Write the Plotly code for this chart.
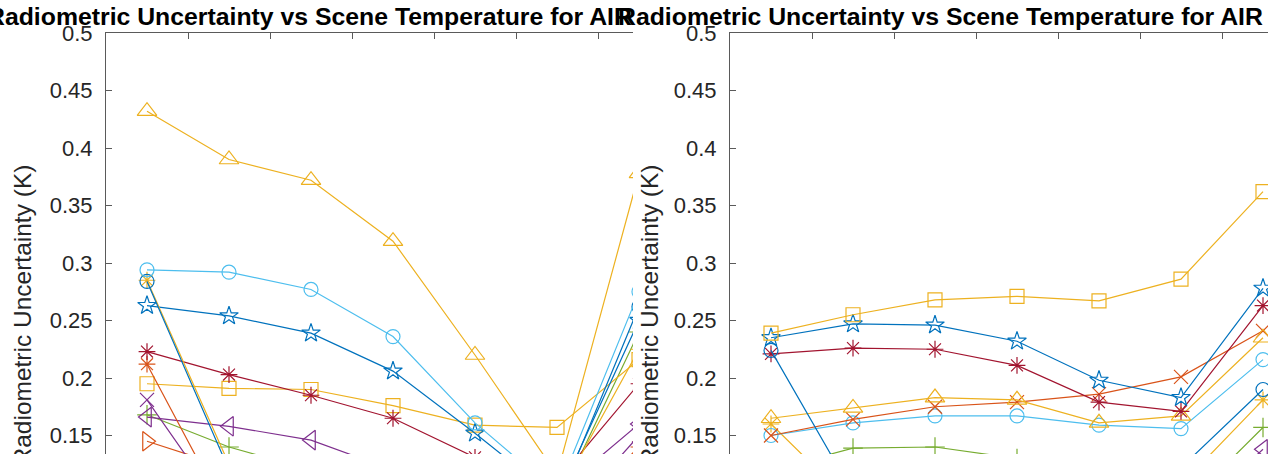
import plotly.graph_objects as go

# ---------------- data ----------------
scene_temp = [205, 215, 225, 235, 245, 255, 265]
x_tick_vals = [210, 220, 230, 240, 250, 260]
y_tick_vals = [0.15, 0.2, 0.25, 0.3, 0.35, 0.4, 0.45, 0.5]
y_tick_text = ["0.15", "0.2", "0.25", "0.3", "0.35", "0.4", "0.45", "0.5"]

title_text = "Radiometric Uncertainty vs Scene Temperature for AIR"
ylabel_text = "Radiometric Uncertainty (K)"

# left panel
L_tri_yellow = [0.432, 0.390, 0.372, 0.319, 0.220, 0.116, 0.378]
L_circ_lblue = [0.294, 0.292, 0.277, 0.236, 0.161, 0.100, 0.275]
L_circ_blue = [0.284, 0.120, 0.115, 0.110, 0.100, 0.090, 0.262]
L_ast_yellow = [0.285, 0.125, 0.120, 0.115, 0.105, 0.095, 0.225]
L_star_blue = [0.263, 0.254, 0.239, 0.206, 0.152, 0.095, 0.250]
L_ast_red = [0.223, 0.203, 0.185, 0.165, 0.131, 0.110, 0.195]
L_ast_orange = [0.212, 0.078, 0.075, 0.070, 0.070, 0.070, 0.140]
L_sq_yellow = [0.195, 0.191, 0.190, 0.176, 0.159, 0.157, 0.216]
L_x_purple = [0.181, 0.079, 0.075, 0.075, 0.070, 0.070, 0.150]
L_tril_purple = [0.166, 0.158, 0.146, 0.120, 0.110, 0.100, 0.160]
L_cross_green = [0.168, 0.140, 0.120, 0.110, 0.100, 0.090, 0.240]
L_trir_orange = [0.145, 0.122, 0.110, 0.100, 0.090, 0.085, 0.130]

# right panel
R_sq_yellow = [0.239, 0.255, 0.268, 0.271, 0.267, 0.286, 0.362]
R_star_blue = [0.235, 0.247, 0.246, 0.232, 0.198, 0.183, 0.278]
R_circ_blue = [0.224, 0.100, 0.100, 0.105, 0.110, 0.122, 0.190]
R_ast_red = [0.221, 0.226, 0.225, 0.211, 0.179, 0.171, 0.263]
R_tri_yellow = [0.165, 0.174, 0.183, 0.181, 0.161, 0.167, 0.235]
R_x_orange = [0.150, 0.164, 0.175, 0.179, 0.186, 0.201, 0.241]
R_circ_lblue = [0.150, 0.161, 0.167, 0.167, 0.159, 0.156, 0.216]
R_ast_yellow = [0.160, 0.090, 0.095, 0.100, 0.100, 0.107, 0.181]
R_cross_green = [0.120, 0.139, 0.140, 0.130, 0.110, 0.086, 0.157]
R_tril_purple = [0.110, 0.100, 0.100, 0.090, 0.080, 0.073, 0.138]

# ---------------- styles ----------------
BLUE, ORANGE, YELLOW, PURPLE = "#0072BD", "#D95319", "#EDB120", "#7E2F8E"
GREEN, LBLUE, DRED = "#77AC30", "#4DBEEE", "#A2142F"

left_series = [
    (L_trir_orange, ORANGE, "triangle-right-open"),
    (L_cross_green, GREEN, "cross-thin-open"),
    (L_tril_purple, PURPLE, "triangle-left-open"),
    (L_x_purple, PURPLE, "x-thin-open"),
    (L_sq_yellow, YELLOW, "square-open"),
    (L_ast_orange, ORANGE, "asterisk-open"),
    (L_ast_red, DRED, "asterisk-open"),
    (L_star_blue, BLUE, "star-open"),
    (L_ast_yellow, YELLOW, "asterisk-open"),
    (L_circ_blue, BLUE, "circle-open"),
    (L_circ_lblue, LBLUE, "circle-open"),
    (L_tri_yellow, YELLOW, "triangle-up-open"),
]
right_series = [
    (R_tril_purple, PURPLE, "triangle-left-open"),
    (R_cross_green, GREEN, "cross-thin-open"),
    (R_ast_yellow, YELLOW, "asterisk-open"),
    (R_circ_lblue, LBLUE, "circle-open"),
    (R_x_orange, ORANGE, "x-thin-open"),
    (R_tri_yellow, YELLOW, "triangle-up-open"),
    (R_ast_red, DRED, "asterisk-open"),
    (R_circ_blue, BLUE, "circle-open"),
    (R_star_blue, BLUE, "star-open"),
    (R_sq_yellow, YELLOW, "square-open"),
]

W, H = 1268, 454
TOP = 33
FONT = "Liberation Sans, Arial, sans-serif"

fig = go.Figure()


def add(series, xa, ya):
    for vals, col, sym in series:
        size = 17 if sym.startswith("triangle") else 14
        fig.add_trace(go.Scatter(
            x=scene_temp, y=vals, mode="lines+markers", xaxis=xa, yaxis=ya,
            line=dict(color=col, width=1.2),
            marker=dict(symbol=sym, size=size, color=col, line=dict(color=col, width=1.2)),
            showlegend=False, hoverinfo="skip"))


add(left_series, "x", "y")
add(right_series, "x2", "y2")

px_per_10 = 82.0
left_x0, left_x1 = 106, 633
right_x0 = 730
ymin = 0.5 - (H - TOP) / 1150.0

axis_common = dict(showgrid=False, zeroline=False, showline=True, linecolor="#5a5a5a",
                   linewidth=1.2, ticks="inside", ticklen=6, tickcolor="#5a5a5a")

fig.update_layout(
    width=W, height=H,
    margin=dict(l=0, r=0, t=TOP, b=0),
    paper_bgcolor="white", plot_bgcolor="white",
    xaxis=dict(domain=[left_x0 / W, left_x1 / W],
               range=[200, 200 + (left_x1 - left_x0) / px_per_10 * 10],
               side="top", tickvals=x_tick_vals, showticklabels=False, **axis_common),
    yaxis=dict(range=[ymin, 0.5], tickvals=y_tick_vals, ticktext=y_tick_text,
               tickfont=dict(family=FONT, size=22, color="#262626"),
               ticklabelstandoff=8, **axis_common),
    xaxis2=dict(domain=[right_x0 / W, 1.0],
                range=[200, 200 + (W - right_x0) / px_per_10 * 10],
                side="top", anchor="y2", tickvals=x_tick_vals, showticklabels=False,
                **axis_common),
    yaxis2=dict(range=[ymin, 0.5], anchor="x2", tickvals=y_tick_vals, ticktext=y_tick_text,
                tickfont=dict(family=FONT, size=22, color="#262626"),
                ticklabelstandoff=8, **axis_common),
)


def py(p):
    return (H - p) / (H - TOP)


title_font = dict(family=FONT, size=24.8, color="black")
label_font = dict(family=FONT, size=24.5, color="#262626")
fig.add_annotation(text="<b>" + title_text + "</b>", xref="paper", yref="paper",
                   x=634 / W, y=py(16.5), xanchor="right", yanchor="middle",
                   showarrow=False, font=title_font)
fig.add_annotation(text="<b>" + title_text + "</b>", xref="paper", yref="paper",
                   x=616 / W, y=py(16.5), xanchor="left", yanchor="middle",
                   showarrow=False, font=title_font)
for xc in (22, 649):
    fig.add_annotation(text=ylabel_text, xref="paper", yref="paper",
                       x=xc / W, y=py(163), xanchor="center", yanchor="top",
                       textangle=-90, showarrow=False, font=label_font)

fig.write_html("out.html", config={"displayModeBar": False},
               post_script="document.body.style.margin='0px';document.body.style.overflow='hidden';")
